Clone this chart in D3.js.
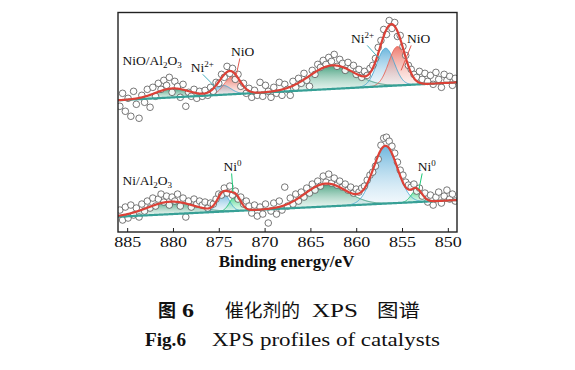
<!DOCTYPE html>
<html><head><meta charset="utf-8">
<script src="https://cdn.jsdelivr.net/npm/d3@7"></script>
<style>body{margin:0;background:#fff;} svg{display:block;}</style>
</head><body>
<svg id="chart" width="575" height="370"></svg>
<script>
// ---------------- DATA ----------------
// sampled binding energies of the measured points (eV)
const energies = d3.range(123).map(i => +(885.8 - 0.3 * i).toFixed(1));

// measured intensities (a.u.), NiO/Al2O3 (upper, offset) spectrum
const topCounts = [126,139,121,134,116,141,128,114,137,130,143,125,145,136,149,143,152,147,155,140,
151,146,135,148,126,140,136,143,134,141,136,142,137,145,141,150,149,158,155,166,
159,164,153,158,146,149,139,144,135,142,137,150,136,147,141,135,145,139,150,137,
148,143,137,151,145,154,149,159,152,146,162,158,168,165,172,168,175,171,178,166,
173,169,162,170,164,167,158,163,155,161,157,164,167,174,185,192,203,198,212,204,
210,196,197,186,177,167,163,158,155,161,153,159,151,157,148,160,153,145,158,152,
156,147,154];

// measured intensities (a.u.), Ni/Al2O3 (lower) spectrum
const bottomCounts = [22,12,25,14,27,17,24,15,28,21,31,24,34,26,33,38,30,36,27,35,
31,38,26,34,15,31,25,33,28,31,27,30,24,29,28,33,38,37,44,39,
46,37,41,33,35,28,31,26,19,27,16,25,18,28,9,21,29,18,31,22,
45,26,34,28,38,31,40,35,44,39,48,42,51,46,56,50,58,49,54,47,
51,45,48,42,45,39,43,40,44,46,52,57,60,66,73,87,94,95,91,86,
79,70,62,57,50,47,45,48,41,44,36,39,30,37,27,35,40,29,36,42,
33,38,31];

// background: intensity at 886 eV and 849 eV
const topBackground = [132, 150];
const bottomBackground = [15.3, 32];

// fitted components: type, centre (eV), height (a.u.), sigma (eV)
const topPeakTypes   = ['sat', 'ni2', 'nio', 'sat', 'ni2', 'nio'];
const topPeakCenters = [880.1, 874.6, 873.5, 862.6, 856.8, 855.5];
const topPeakHeights = [9, 9.5, 18, 23.6, 38, 39];
const topPeakSigmas  = [1.8, 0.9, 0.9, 2.5, 0.95, 0.95];

const bottomPeakTypes   = ['sat', 'ni2', 'ni0', 'sat', 'ni2', 'ni0'];
const bottomPeakCenters = [880.3, 874.5, 873.2, 863.3, 856.8, 853.4];
const bottomPeakHeights = [12.5, 18, 15, 23, 57.5, 12];
const bottomPeakSigmas  = [2.5, 0.65, 0.6, 2.3, 1.3, 0.6];

const xTicks = [885, 880, 875, 870, 865, 860, 855, 850];
const xTitle = 'Binding energy/eV';

// ---------------- STYLE ----------------
const plot = {left: 118, right: 457, top: 12.5, bottom: 232};
const serif = '"Liberation Serif", "Times New Roman", Times, serif';
const typeStyle = {
  sat: {top: 'rgb(40,145,105)', bottom: 'rgb(215,238,230)', line: 'rgb(55,150,120)'},
  ni2: {top: 'rgb(85,170,215)', bottom: 'rgb(222,238,248)', line: 'rgb(70,165,210)'},
  nio: {top: 'rgb(236,100,85)', bottom: 'rgb(250,228,222)', line: 'rgb(230,100,88)'},
  ni0: {top: 'rgb(25,205,110)', bottom: 'rgb(205,245,222)', line: 'rgb(30,190,110)'}
};

const svg = d3.select('#chart');
const x = d3.scaleLinear().domain([886, 849]).range([plot.left, plot.right]);
const y = d3.scaleLinear().domain([0, 220]).range([plot.bottom, plot.top]);

const defs = svg.append('defs');
defs.append('clipPath').attr('id', 'clip').append('rect')
  .attr('x', plot.left).attr('y', plot.top)
  .attr('width', plot.right - plot.left).attr('height', plot.bottom - plot.top);
Object.entries(typeStyle).forEach(([k, s]) => {
  const g = defs.append('linearGradient').attr('id', 'grad-' + k)
    .attr('x1', 0).attr('y1', 0).attr('x2', 0).attr('y2', 1);
  g.append('stop').attr('offset', 0).attr('stop-color', s.top).attr('stop-opacity', 0.85);
  g.append('stop').attr('offset', 1).attr('stop-color', s.bottom).attr('stop-opacity', 0.35);
});

const fine = d3.range(0, 741).map(i => 886 - i * 0.05);
const gauss = (e, c, h, s) => h * Math.exp(-((e - c) ** 2) / (2 * s * s));

function drawSpectrum(counts, bg, types, centers, heights, sigmas) {
  const base = e => bg[0] + (bg[1] - bg[0]) * (886 - e) / 37;
  const g = svg.append('g').attr('clip-path', 'url(#clip)');
  const comps = types.map((t, i) => ({type: t, c: centers[i], h: heights[i], s: sigmas[i]}));
  comps.forEach(p => {
    const pts = fine.filter(e => Math.abs(e - p.c) <= 4 * p.s);
    g.append('path').datum(pts)
      .attr('d', d3.area().x(e => x(e)).y0(e => y(base(e))).y1(e => y(base(e) + gauss(e, p.c, p.h, p.s))))
      .attr('fill', `url(#grad-${p.type})`).attr('stroke', 'none');
  });
  comps.forEach(p => {
    const pts = fine.filter(e => Math.abs(e - p.c) <= 4 * p.s);
    g.append('path').datum(pts)
      .attr('d', d3.line().x(e => x(e)).y(e => y(base(e) + gauss(e, p.c, p.h, p.s))))
      .attr('fill', 'none').attr('stroke', typeStyle[p.type].line).attr('stroke-width', 1).attr('stroke-opacity', 0.9);
  });
  g.selectAll('circle.pt').data(counts).enter().append('circle')
    .attr('class', 'pt')
    .attr('cx', (d, i) => x(energies[i])).attr('cy', d => y(d)).attr('r', 3.3)
    .attr('fill', '#fff').attr('fill-opacity', 0.85)
    .attr('stroke', '#555').attr('stroke-width', 0.8);
  g.append('path').datum(fine)
    .attr('d', d3.line().x(e => x(e)).y(e => y(base(e))))
    .attr('fill', 'none').attr('stroke', 'rgb(55,160,150)').attr('stroke-width', 2.2);
  const total = e => base(e) + comps.reduce((a, p) => a + gauss(e, p.c, p.h, p.s), 0);
  g.append('path').datum(fine)
    .attr('d', d3.line().x(e => x(e)).y(e => y(total(e))))
    .attr('fill', 'none').attr('stroke', 'rgb(220,65,55)').attr('stroke-width', 2.2);
}

drawSpectrum(topCounts, topBackground, topPeakTypes, topPeakCenters, topPeakHeights, topPeakSigmas);
drawSpectrum(bottomCounts, bottomBackground, bottomPeakTypes, bottomPeakCenters, bottomPeakHeights, bottomPeakSigmas);

// ---------------- ANNOTATIONS ----------------
function label(parts, e, i, anchor, colorLine, from, to) {
  const t = svg.append('text').attr('x', x(e)).attr('y', y(i))
    .attr('text-anchor', anchor).attr('font-family', serif).attr('font-size', 13.5).attr('fill', '#111');
  parts.forEach(p => {
    const ts = t.append('tspan').text(p.t);
    if (p.sub) ts.attr('font-size', 9).attr('dy', 3);
    if (p.sup) ts.attr('font-size', 9).attr('dy', -5);
    if (p.back) ts.attr('dy', p.back);
  });
  if (from) {
    svg.append('line').attr('x1', x(from[0])).attr('y1', y(from[1]))
      .attr('x2', x(to[0])).attr('y2', y(to[1]))
      .attr('stroke', colorLine).attr('stroke-width', 1);
  }
}
label([{t: 'NiO/Al'}, {t: '2', sub: true}, {t: 'O', back: -3}, {t: '3', sub: true}], 885.5, 167, 'start');
label([{t: 'Ni'}, {t: '2+', sup: true}], 876.8, 160.3, 'middle', 'rgb(70,175,190)', [876.75, 158], [875.45, 146]);
label([{t: 'NiO'}], 872.4, 176, 'middle', 'rgb(225,90,80)', [872.7, 174], [873.1, 157]);
label([{t: 'Ni'}, {t: '2+', sup: true}], 859.3, 189.3, 'middle', 'rgb(70,175,190)', [858.8, 187], [857.5, 174]);
label([{t: 'NiO'}], 853.2, 189.3, 'middle', 'rgb(225,90,80)', [854.0, 187], [855.1, 162]);
label([{t: 'Ni/Al'}, {t: '2', sub: true}, {t: 'O', back: -3}, {t: '3', sub: true}], 885.5, 47, 'start');
label([{t: 'Ni'}, {t: '0', sup: true}], 873.5, 61, 'middle', 'rgb(30,200,120)', [873.6, 58.7], [873.45, 40.3]);
label([{t: 'Ni'}, {t: '0', sup: true}], 852.3, 61, 'middle', 'rgb(30,200,120)', [852.8, 58.7], [853.15, 43]);

// ---------------- AXES / FRAME ----------------
const ax = svg.append('g').attr('transform', `translate(0,${plot.bottom})`)
  .call(d3.axisBottom(x).tickValues(xTicks).tickSize(-4).tickPadding(4).tickFormat(d3.format('d')));
ax.select('.domain').remove();
ax.selectAll('.tick line').attr('stroke', '#222').attr('stroke-width', 1);
ax.selectAll('.tick text').attr('font-family', serif).attr('font-size', 15).attr('fill', '#111')
  .attr('textLength', 27).attr('lengthAdjust', 'spacingAndGlyphs');

svg.append('rect').attr('x', plot.left).attr('y', plot.top)
  .attr('width', plot.right - plot.left).attr('height', plot.bottom - plot.top)
  .attr('fill', 'none').attr('stroke', '#222').attr('stroke-width', 1.4);

svg.append('text').attr('x', (plot.left + plot.right) / 2 - 1).attr('y', 267)
  .attr('text-anchor', 'middle').attr('font-family', serif).attr('font-weight', 'bold')
  .attr('font-size', 17).attr('fill', '#111').text(xTitle);

// ---------------- CAPTION ----------------
const cjk = '"Noto Sans CJK SC", sans-serif';
function seg(txt, x0, x1, yb, font, size, weight) {
  svg.append('text').attr('x', x0).attr('y', yb).attr('font-family', font).attr('font-size', size)
    .attr('font-weight', weight || 'normal').attr('fill', '#111')
    .attr('textLength', x1 - x0).attr('lengthAdjust', 'spacingAndGlyphs').text(txt);
}
seg('图', 158, 176, 317, cjk, 18, 'bold');
seg('6', 182, 194, 317, serif, 19, 'bold');
seg('催化剂的', 225, 300, 317, cjk, 18);
seg('XPS', 312, 358, 317, serif, 19);
seg('图谱', 377, 420, 317, cjk, 18);
seg('Fig.6', 145, 186, 346, serif, 19, 'bold');
seg('XPS profiles of catalysts', 212, 440, 346, serif, 19);
</script>
</body></html>
